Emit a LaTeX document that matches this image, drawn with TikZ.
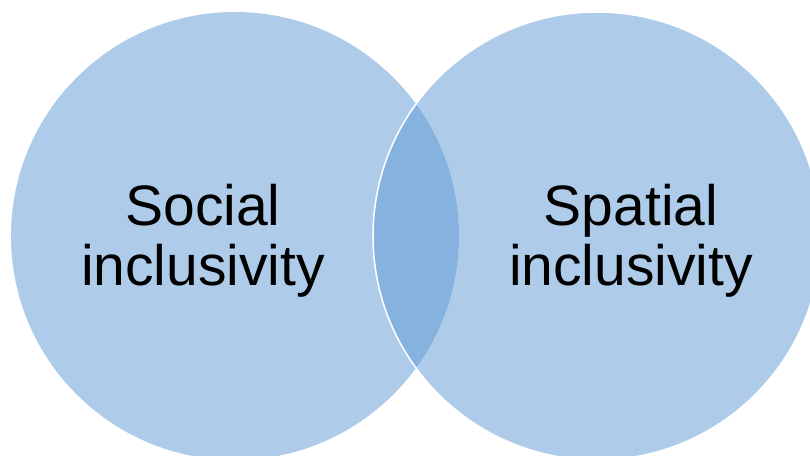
\documentclass[tikz,border=0pt]{standalone}
\usepackage{fontspec}
\setmainfont{Liberation Sans}
\definecolor{venn}{RGB}{93,153,213}

\tikzset{
  bubble/.style={circle,minimum size=448pt,inner sep=0pt,fill=venn,fill opacity=.5},
  label/.style={align=center,inner sep=0pt,font=\fontsize{57}{60}\selectfont}
}

\begin{document}
\begin{tikzpicture}[x=1pt,y=-1pt]
\clip (0,0) rectangle (810,455);

\node[bubble] (social) at (235,236) {};
\node[bubble,draw=white,draw opacity=1,line width=1.5pt] (spatial) at (597,236) {};

\node[label] (socialtext) at (203,241) {Social\\inclusivity};
\node[label] (spatialtext) at (631,241) {Spatial\\inclusivity};
\end{tikzpicture}
\end{document}
